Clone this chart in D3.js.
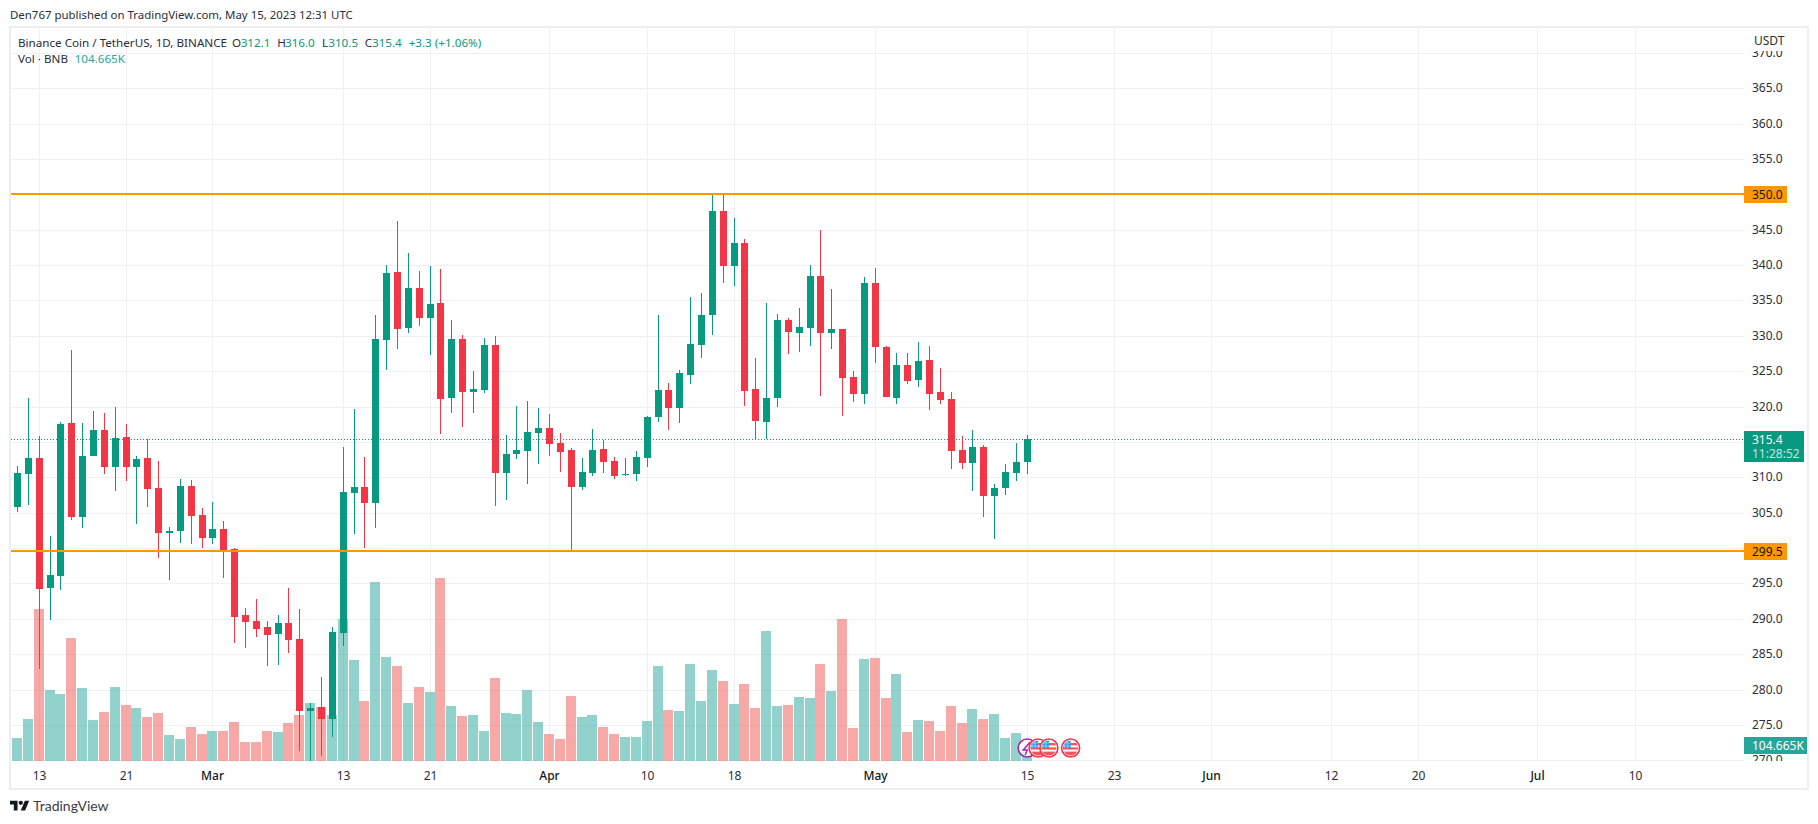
<!DOCTYPE html>
<html>
<head>
<meta charset="utf-8">
<script src="https://cdn.jsdelivr.net/npm/d3@7"></script>
<style>
  html, body { margin: 0; padding: 0; background: #fff; }
  svg { display: block; }
  text { font-family: "Noto Sans", sans-serif; font-size: 12px; fill: #2a2e39; }
  .domain { display: none; }
  .tick line { stroke: #f0f0f3; }
  .crisp rect { shape-rendering: crispEdges; }
</style>
</head>
<body>
<script>
const width = 1818
const height = 824

/* Daily candles, first one is Feb 11 2023, last one May 15 2023. */
const firstCandle = "2023-02-11"
const opens = [305.87,310.4,312.66,294.32,296.11,317.61,304.32,312.94,316.62,311.39,315.63,311.39,312.66,308.42,302.19,302.48,308.84,304.74,301.49,302.76,
  299.93,290.52,289.67,288.82,287.83,289.39,287.13,276.94,277.51,275.81,287.97,307.85,308.56,306.3,329.35,338.97,331.05,336.7,332.46,334.58,
  321.15,329.49,322,322.28,328.64,310.54,313.23,313.7,316.25,316.96,314.84,313.85,308.61,310.59,313.99,312.29,310.31,310.45,312.71,318.51,
  322.33,319.79,324.45,328.7,332.94,347.65,339.87,343.12,322.47,317.81,321.2,332.23,330.39,331.1,338.46,330.39,330.96,324.17,321.77,337.47,
  328.41,321.2,325.87,323.75,326.58,322.05,321.06,313.85,312.01,314.27,307.34,308.47,310.59,312.1]
const highs = [311.53,321.15,315.77,301.77,317.75,327.94,317.61,319.31,319.03,319.87,317.47,312.94,315.35,312.24,303.04,309.83,309.55,305.73,306.44,303.89,
  300.07,291.51,292.78,289.67,290.52,294.34,291.37,278.07,281.75,288.82,314.22,319.59,312.8,332.89,339.96,346.18,341.65,339.11,339.82,339.39,
  332.18,330.06,324.97,329.63,329.92,315.91,320.02,320.78,319.79,318.94,316.25,314.13,312.71,316.82,315.26,312.86,312.71,313.7,318.66,332.94,
  323.32,325.16,335.49,336.05,350.06,350.06,346.66,343.69,326.86,334.64,333.08,332.52,333.93,340.01,344.96,336.62,330.96,325.02,338.32,339.59,
  328.56,327.57,327.57,329.12,328.56,325.44,322.05,315.83,316.67,314.55,309.04,311.87,314.84,316]
const lows = [305.16,306.15,282.9,289.81,294.13,304.03,302.9,312.94,310.4,308.13,309.41,303.33,305.87,298.66,295.55,300.78,300.64,300.07,300.64,295.83,
  286.56,285.85,287.41,283.31,283.45,285.15,271.28,269.9,270.58,273.26,286.14,302.05,300.07,302.9,325.11,328.08,330.34,331.33,327.23,316.06,
  319.03,317.05,319.03,321.85,306.01,306.86,312.52,309.04,311.87,313,310.73,299.6,308.19,310.17,310.59,309.74,310.17,309.46,311.44,317.81,
  316.67,317.66,323.18,326.86,330.11,337.47,337.04,320.07,315.35,315.35,319.93,327.42,327.71,328.56,321.48,328.13,318.66,320.64,320.35,326.15,
  321.34,320.35,323.18,322.76,319.5,320.35,311.16,311.16,308.05,304.37,301.26,307.48,309.46,310.5]
const closes = [310.54,312.66,294.25,296.25,317.47,304.32,313.08,316.62,311.39,315.49,311.39,312.52,308.28,302.19,302.48,308.84,304.6,301.35,302.76,299.79,
  290.24,289.53,288.54,287.69,289.39,286.98,276.94,277.37,275.81,288.12,307.99,308.56,306.3,329.49,338.83,330.91,336.7,332.46,334.44,321.01,
  329.49,322,322.42,328.64,310.54,313.23,313.79,316.39,316.96,314.69,313.56,308.61,310.73,313.85,312.15,310.17,310.45,312.86,318.51,322.33,
  319.79,324.74,328.84,332.94,347.65,339.87,343.12,322.19,317.95,321.2,332.23,330.54,331.24,338.46,330.39,330.96,324.03,321.77,337.47,328.41,
  321.34,325.87,323.61,326.43,321.77,320.92,313.7,312.01,314.27,307.34,308.47,310.73,312.15,315.4]

/* Volume in thousands, starts one day earlier than the candles (Feb 10 bar is cut by the pane). */
const firstVolume = "2023-02-10"
const volumes = [281,150,275,994,464,438,804,477,268,320,484,366,347,288,314,170,144,222,177,196,
  196,255,124,124,196,190,249,301,379,353,301,929,661,392,1171,680,621,379,484,451,
  1197,360,294,301,196,543,314,307,464,255,177,144,425,288,301,222,177,157,157,262,
  621,334,327,634,392,595,523,373,504,347,850,360,366,419,412,634,458,929,216,667,
  674,412,569,190,268,262,196,360,249,340,275,307,150,183,105]

/* Tick labels. 315 and 300 have a grid line, their labels sit under the price boxes. */
const priceTicks = [370,365,360,355,350,345,340,335,330,325,320,315,310,305,300,295,290,285,280,275,270]
const hiddenPriceLabels = [315, 300]
const timeTicks = ["2023-02-13","2023-02-21","2023-03-01","2023-03-13","2023-03-21","2023-04-01","2023-04-10","2023-04-18",
  "2023-05-01","2023-05-15","2023-05-23","2023-06-01","2023-06-12","2023-06-20","2023-07-01","2023-07-10"]
const monthTicks = {"2023-03-01": "Mar", "2023-04-01": "Apr", "2023-05-01": "May", "2023-06-01": "Jun", "2023-07-01": "Jul"}

/* Horizontal levels and last values. */
const levels = [350, 299.5]
const lastPrice = 315.4
const usEvents = ["2023-05-16", "2023-05-17", "2023-05-19"]
const otherEvent = "2023-05-15"

const green = "#089981"
const red = "#f23645"
const orange = "#ff9800"

const parse = d3.utcParse("%Y-%m-%d")
const fmtDay = d3.utcFormat("%Y-%m-%d")

const svg = d3.select("body")
  .append("svg")
  .attr("width", width)
  .attr("height", height)

const x = d3.scaleUtc()
  .domain([parse("2023-02-13"), parse("2023-05-15")])
  .range([39.2, 1027.2])
const y = d3.scaleLinear()
  .domain([270, 350])
  .range([760.3, 194.3])
const yVol = d3.scaleLinear()
  .domain([0, 1197])
  .range([761, 578])

/* Snap to device pixels the way the original does. */
const px = d => Math.floor(x(d)) + 0.5
const py = v => Math.round(y(v)) + 0.5

const candleDays = opens.map((d, i) => d3.utcDay.offset(parse(firstCandle), i))
const volumeDays = volumes.map((d, i) => d3.utcDay.offset(parse(firstVolume), i))

const paneLeft = 11, paneRight = 1744, paneTop = 28, paneBottom = 760

svg.append("clipPath").attr("id", "pane")
  .append("rect").attr("x", paneLeft).attr("y", paneTop).attr("width", paneRight - paneLeft).attr("height", paneBottom - paneTop + 2)
svg.append("clipPath").attr("id", "scale")
  .append("rect").attr("x", 0).attr("y", 51).attr("width", width).attr("height", 710)

/* Publisher line. */
svg.append("text").attr("x", 10).attr("y", 19).style("font-size", "11.45px")
  .text("Den767 published on TradingView.com, May 15, 2023 12:31 UTC")

/* Outer frame. */
svg.append("rect")
  .attr("x", 10).attr("y", 27).attr("width", 1798).attr("height", 762)
  .attr("fill", "none").attr("stroke", "#eeeef2").attr("stroke-width", 2)

/* Time axis, its tick lines are the vertical grid. */
const xAxis = svg.append("g")
  .attr("transform", `translate(0,${paneBottom})`)
  .call(d3.axisBottom(x)
    .tickValues(timeTicks.map(parse))
    .tickSize(-(paneBottom - paneTop))
    .tickPadding(11)
    .tickFormat(d => monthTicks[fmtDay(d)] || d.getUTCDate()))
xAxis.selectAll(".tick").attr("transform", d => `translate(${px(d)},0)`)
xAxis.selectAll(".tick line").attr("x1", 0).attr("x2", 0)
xAxis.selectAll(".tick text").attr("x", 0)
  .style("fill", d => monthTicks[fmtDay(d)] ? "#131722" : "#2a2e39")
  .attr("font-weight", d => monthTicks[fmtDay(d)] ? 500 : 400)

/* Price axis, its tick lines are the horizontal grid. */
const yAxis = svg.append("g")
  .attr("transform", `translate(${paneLeft},0)`)
  .attr("clip-path", "url(#scale)")
  .call(d3.axisRight(y)
    .tickValues(priceTicks)
    .tickSize(paneRight - paneLeft)
    .tickPadding(8)
    .tickFormat(d => hiddenPriceLabels.includes(d) ? "" : d3.format(".1f")(d)))
yAxis.selectAll(".tick").attr("transform", d => `translate(0,${py(d)})`)
yAxis.selectAll(".tick line").attr("y1", 0).attr("y2", 0)
yAxis.selectAll(".tick text").attr("y", 0)

const pane = svg.append("g").attr("clip-path", "url(#pane)")

/* Volume bars. */
pane.append("g")
  .attr("class", "crisp")
  .selectAll("rect")
  .data(volumes)
  .enter()
  .append("rect")
  .attr("x", (d, i) => Math.floor(x(volumeDays[i])) - 5)
  .attr("width", 10)
  .attr("y", d => yVol(d))
  .attr("height", d => yVol(0) - yVol(d))
  .attr("fill", (d, i) => i > 0 && closes[i - 1] >= opens[i - 1] ? "#26a69a" : "#ef5350")
  .attr("fill-opacity", 0.5)

/* Candles: wick, then body. */
const candles = pane.append("g")
  .attr("class", "crisp")
  .selectAll("g")
  .data(opens)
  .enter()
  .append("g")
  .attr("fill", (d, i) => closes[i] >= opens[i] ? green : red)
candles.append("rect")
  .attr("x", (d, i) => px(candleDays[i]) - 0.5)
  .attr("width", 1)
  .attr("y", (d, i) => y(highs[i]))
  .attr("height", (d, i) => y(lows[i]) - y(highs[i]))
candles.append("rect")
  .attr("x", (d, i) => px(candleDays[i]) - 3.5)
  .attr("width", 7)
  .attr("y", (d, i) => y(Math.max(opens[i], closes[i])))
  .attr("height", (d, i) => Math.max(1, Math.abs(y(opens[i]) - y(closes[i]))))

/* Last price line. */
pane.append("line")
  .attr("x1", paneLeft).attr("x2", paneRight)
  .attr("y1", py(lastPrice)).attr("y2", py(lastPrice))
  .attr("stroke", green).attr("stroke-dasharray", "1 2")

/* Support and resistance lines. */
pane.selectAll(".level")
  .data(levels)
  .enter()
  .append("line")
  .attr("class", "level")
  .attr("x1", paneLeft).attr("x2", paneRight)
  .attr("y1", d => Math.floor(y(d))).attr("y2", d => Math.floor(y(d)))
  .attr("stroke", orange).attr("stroke-width", 2)

/* Economic events markers. */
const eventsG = svg.append("g")
const purple = eventsG.append("g")
  .attr("transform", `translate(${x(parse(otherEvent))},748)`)
purple.append("circle").attr("r", 9).attr("fill", "#fff").attr("stroke", "#9c27b0").attr("stroke-width", 1.6)
purple.append("path").attr("d", "M3-6L-4 2H0L-2 7").attr("fill", "none").attr("stroke", "#9c27b0").attr("stroke-width", 1.5)

svg.append("clipPath").attr("id", "flag").append("circle").attr("r", 7.6)
const flags = eventsG.selectAll(".flag")
  .data(usEvents)
  .enter()
  .append("g")
  .attr("class", "flag")
  .attr("transform", d => `translate(${x(parse(d))},748)`)
flags.append("circle").attr("r", 9).attr("fill", "#fff").attr("stroke", red).attr("stroke-width", 1.6)
const flagInner = flags.append("g").attr("clip-path", "url(#flag)")
flagInner.append("rect").attr("x", -8).attr("y", -5).attr("width", 16).attr("height", 2.4).attr("fill", "#f7525f")
flagInner.append("rect").attr("x", -8).attr("y", -0.6).attr("width", 16).attr("height", 2.2).attr("fill", "#f7525f")
flagInner.append("rect").attr("x", -8).attr("y", 3.6).attr("width", 16).attr("height", 5).attr("fill", "#f7525f")
flagInner.append("rect").attr("x", -8).attr("y", -8).attr("width", 8).attr("height", 8).attr("fill", "#2196f3")
flagInner.append("path").attr("d", "M-6-8V0M-3-8V0M-8-5H0M-8-2H0").attr("stroke", "#cfe6fb").attr("stroke-width", 0.6)

/* Price scale title. */
svg.append("text").attr("x", 1754).attr("y", 45).text("USDT")

/* Price scale labels. */
function priceLabel(yTop, w, h, fill, label, color) {
  svg.append("rect").attr("x", paneRight).attr("y", yTop).attr("width", w).attr("height", h).attr("fill", fill)
  svg.append("text").attr("x", paneRight + 8).attr("y", yTop + 13).style("fill", color).text(label)
}
levels.forEach(d => priceLabel(Math.floor(y(d)) - 8, 43, 17, orange, d3.format(".1f")(d), "#131722"))
priceLabel(431, 60, 31, green, d3.format(".1f")(lastPrice), "#fff")
svg.append("text").attr("x", paneRight + 8).attr("y", 458).style("fill", "rgba(255,255,255,0.75)").text("11:28:52")
priceLabel(737, 63, 17, "#26a69a", "104.665K", "#fff")

/* Legend. */
const legend = [
  [18, 46.5, "Binance Coin / TetherUS, 1D, BINANCE", "#2a2e39"],
  [232, 46.5, "O", "#2a2e39"], [240.7, 46.5, "312.1", green],
  [277.3, 46.5, "H", "#2a2e39"], [285, 46.5, "316.0", green],
  [322, 46.5, "L", "#2a2e39"], [328.3, 46.5, "310.5", green],
  [364.7, 46.5, "C", "#2a2e39"], [372, 46.5, "315.4", green],
  [408.7, 46.5, "+3.3 (+1.06%)", green],
  [18, 63, "Vol · BNB", "#2a2e39"], [74.7, 63, "104.665K", "#26a69a"]
]
svg.append("g")
  .selectAll("text")
  .data(legend)
  .enter()
  .append("text")
  .attr("x", d => d[0])
  .attr("y", d => d[1])
  .style("font-size", "11.65px")
  .style("fill", d => d[3])
  .text(d => d[2])

/* TradingView logo. */
const logo = svg.append("g").attr("transform", "translate(10,798.5) scale(0.54)").attr("fill", "#131722")
logo.append("path").attr("d", "M14 22H7V11H0V4h14v18zM28 22h-8l7.5-18h8L28 22z")
logo.append("circle").attr("cx", 20).attr("cy", 8).attr("r", 4)
svg.append("text").attr("x", 33).attr("y", 811)
  .style("font-family", "Lato, sans-serif").style("font-size", "14px").style("fill", "#3a3e49")
  .text("TradingView")
</script>
</body>
</html>
